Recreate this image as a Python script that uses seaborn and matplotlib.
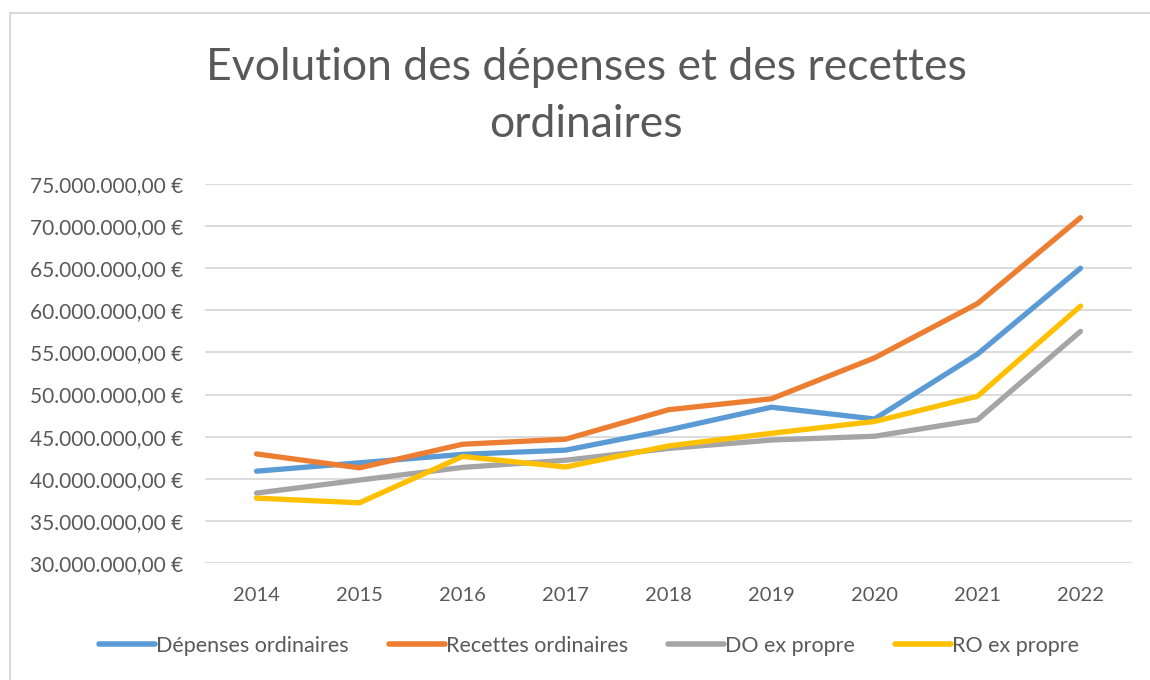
import matplotlib
matplotlib.use("Agg")
import matplotlib.pyplot as plt
import matplotlib.ticker as mticker
from matplotlib.patches import Rectangle
import seaborn as sns
import pandas as pd

years = [2014, 2015, 2016, 2017, 2018, 2019, 2020, 2021, 2022]
depenses_ordinaires = [40.9, 41.9, 42.9, 43.4, 45.8, 48.5, 47.1, 54.8, 65.0]
recettes_ordinaires = [42.95, 41.3, 44.1, 44.7, 48.2, 49.5, 54.35, 60.8, 71.0]
do_ex_propre = [38.3, 39.85, 41.35, 42.2, 43.6, 44.6, 45.05, 47.0, 57.5]
ro_ex_propre = [37.7, 37.15, 42.65, 41.4, 43.9, 45.4, 46.8, 49.8, 60.5]
series_names = ["Dépenses ordinaires", "Recettes ordinaires", "DO ex propre", "RO ex propre"]
palette = ["#5B9BD5", "#ED7D31", "#A5A5A5", "#FFC000"]
title = "Evolution des dépenses et des recettes\nordinaires"

frames = []
for name, vals in zip(series_names, [depenses_ordinaires, recettes_ordinaires, do_ex_propre, ro_ex_propre]):
    frames.append(pd.DataFrame({"Année": [str(y) for y in years],
                                "Montant": [v * 1e6 for v in vals],
                                "Série": name}))
df = pd.concat(frames, ignore_index=True)

sns.set_theme(style="white")
plt.rcParams["font.family"] = ["Lato", "DejaVu Sans"]
text_color = "#595959"
grid_color = "#D9D9D9"


def euro(v, pos):
    # European number format: dot for thousands, comma for decimals
    s = f"{v:,.2f}".replace(",", "_").replace(".", ",").replace("_", ".")
    return s + " €"


fig = plt.figure(figsize=(11.5, 6.8), dpi=100)
fig.patches.append(Rectangle((10 / 1150, -0.01), 1.2, (680 - 13) / 680 + 0.01,
                             transform=fig.transFigure, fill=False,
                             edgecolor=grid_color, linewidth=1.5))

ax = fig.add_axes([205 / 1150, 117 / 680, 927 / 1150, 379 / 680])
sns.lineplot(data=df, x="Année", y="Montant", hue="Série", hue_order=series_names,
             palette=palette, linewidth=3.8, sort=False, ax=ax, legend=False,
             solid_capstyle="round")

ax.set_xlim(-0.5, len(years) - 0.5)
ax.set_ylim(30e6, 75e6)
ax.yaxis.set_major_locator(mticker.MultipleLocator(5e6))
ax.yaxis.set_major_formatter(mticker.FuncFormatter(euro))
ax.grid(axis="y", color=grid_color, linewidth=1.3)
ax.set_axisbelow(True)
for s in ax.spines.values():
    s.set_visible(False)
ax.tick_params(axis="both", length=0, colors=text_color)
ax.tick_params(axis="y", pad=16, labelsize=15)
ax.tick_params(axis="x", pad=17, labelsize=14.5)
ax.set_xlabel("")
ax.set_ylabel("")

fig.text(586 / 1150, 1 - 96 / 680, title, ha="center", va="center",
         fontsize=32, color=text_color, linespacing=1.48)

handles = [plt.Line2D([], [], color=c, linewidth=4, solid_capstyle="round") for c in palette]
fig.legend(handles, series_names, loc="center", bbox_to_anchor=(589 / 1150, 1 - 646 / 680),
           ncol=4, frameon=False, fontsize=15.5, labelcolor=text_color,
           handlelength=2.6, handletextpad=0.05, columnspacing=1.85)

fig.savefig("out.png", dpi=100)
